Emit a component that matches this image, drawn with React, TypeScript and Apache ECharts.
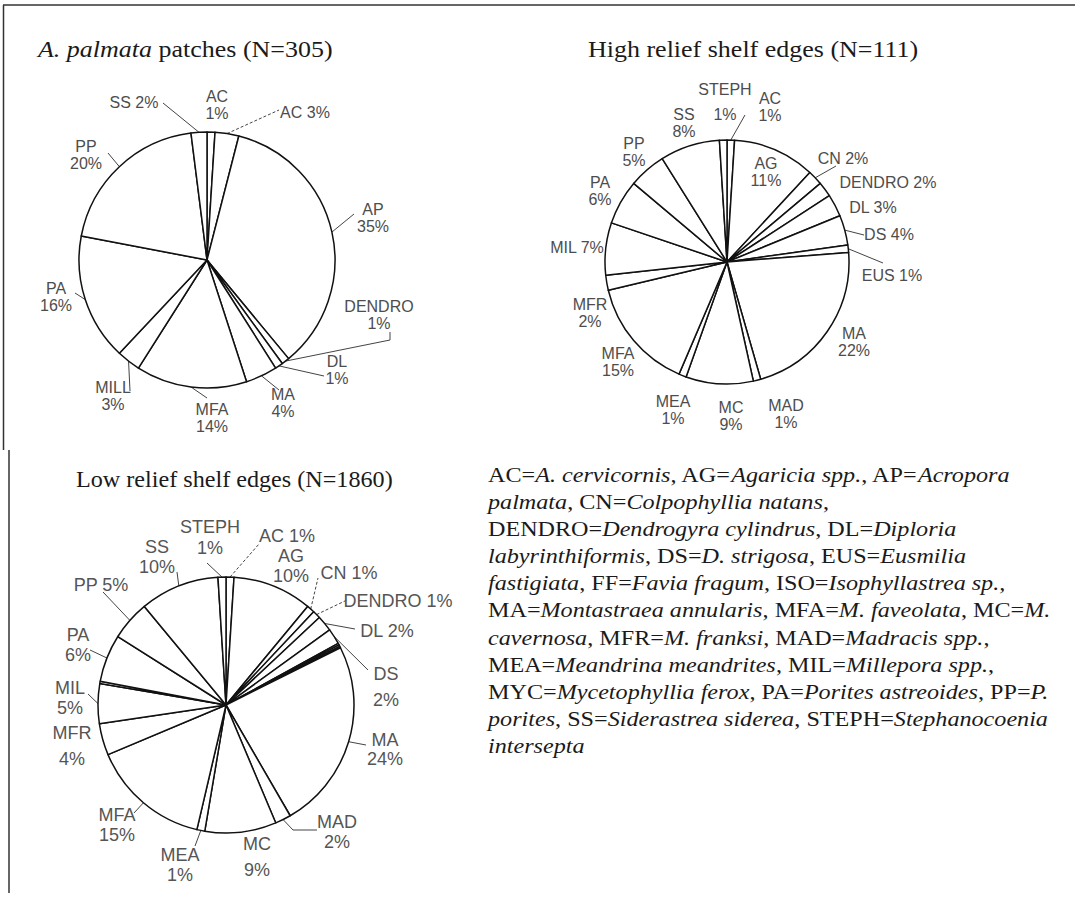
import React, { useEffect, useRef } from 'react';
import * as echarts from 'echarts';

// ---------- data ----------
const P1_TITLE = 'patches (N=305)';
const P1_NAMES = ['AC', 'AC', 'AP', 'DENDRO', 'DL', 'MA', 'MFA', 'MILL', 'PA', 'PP', 'SS'];
const P1_VALUES = [1, 3, 35, 1, 1, 4, 14, 3, 16, 20, 2];

const P2_TITLE = 'High relief shelf edges (N=111)';
const P2_NAMES = ['AC', 'AG', 'CN', 'DENDRO', 'DL', 'DS', 'EUS', 'MA', 'MAD', 'MC', 'MEA', 'MFA', 'MFR', 'MIL', 'PA', 'PP', 'SS', 'STEPH'];
const P2_VALUES = [1, 11, 2, 2, 3, 4, 1, 22, 1, 9, 1, 15, 2, 7, 6, 5, 8, 1];

const P3_TITLE = 'Low relief shelf edges (N=1860)';
const P3_NAMES = ['AC', 'AG', 'CN', 'DENDRO', 'DL', 'DS', 'EUS', 'FF', 'ISO', 'MA', 'MAD', 'MC', 'MEA', 'MFA', 'MFR', 'MIL', 'MYC', 'PA', 'PP', 'SS', 'STEPH'];
const P3_VALUES = [1, 10, 1, 1, 2, 2, 0.2, 0.2, 0.2, 24, 2, 9, 1, 15, 4, 5, 0.3, 6, 5, 10, 1];

const LEGEND_LINES: [string, boolean][][] = [
  [['AC=', false], ['A. cervicornis', true], [', AG=', false], ['Agaricia spp.', true], [', AP=', false], ['Acropora', true]],
  [['palmata', true], [', CN=', false], ['Colpophyllia natans', true], [',', false]],
  [['DENDRO=', false], ['Dendrogyra cylindrus', true], [', DL=', false], ['Diploria', true]],
  [['labyrinthiformis', true], [', DS=', false], ['D. strigosa', true], [', EUS=', false], ['Eusmilia', true]],
  [['fastigiata', true], [', FF=', false], ['Favia fragum', true], [', ISO=', false], ['Isophyllastrea sp.,', true]],
  [['MA=', false], ['Montastraea annularis', true], [', MFA=', false], ['M. faveolata', true], [', MC=', false], ['M.', true]],
  [['cavernosa', true], [', MFR=', false], ['M. franksi', true], [', MAD=', false], ['Madracis spp.', true], [',', false]],
  [['MEA=', false], ['Meandrina meandrites', true], [', MIL=', false], ['Millepora spp.', true], [',', false]],
  [['MYC=', false], ['Mycetophyllia ferox', true], [', PA=', false], ['Porites astreoides', true], [', PP=', false], ['P.', true]],
  [['porites', true], [', SS=', false], ['Siderastrea siderea', true], [', STEPH=', false], ['Stephanocoenia', true]],
  [['intersepta', true]],
];

// ---------- layout (label placement relative to each pie centre) ----------
type Lab = { at: [number, number]; line?: [number, number][]; one?: boolean; lh?: number; dash?: boolean } | null;

const P1_LAYOUT: Lab[] = [
  { at: [10, -155] },
  { at: [98, -148], one: true, dash: true, line: [[72, -150]] },
  { at: [166, -42], line: [[147, -46]] },
  { at: [172, 55], line: [[183, 80], [183, 72]] },
  { at: [130, 110], line: [[117, 116]] },
  { at: [76, 143], line: [[72, 130]] },
  { at: [5, 158], line: [[0, 138]] },
  { at: [-94, 136], line: [[-77, 131]] },
  { at: [-151, 37], line: [[-132, 33]] },
  { at: [-121, -105], line: [[-99, -107]] },
  { at: [-73, -158], one: true, line: [[-44, -157]] },
];

const P2_LAYOUT: Lab[] = [
  { at: [43, -155], line: [[18, -147]] },
  { at: [39, -90] },
  { at: [116, -104], one: true, line: [[109, -96]] },
  { at: [161, -80], one: true },
  { at: [146, -55], one: true },
  { at: [162, -28], one: true, line: [[137, -27]] },
  { at: [165, 13], one: true, line: [[156, 1]] },
  { at: [127, 80] },
  { at: [59, 152] },
  { at: [4, 154] },
  { at: [-54, 148] },
  { at: [-109, 100] },
  { at: [-137, 51] },
  { at: [-150, -15], one: true },
  { at: [-127, -71] },
  { at: [-93, -110] },
  { at: [-43, -139] },
  { at: [-2, -160], lh: 25 },
];

const P3_LAYOUT: Lab[] = [
  { at: [61, -169], one: true, dash: true, line: [[33, -161]] },
  { at: [65, -139] },
  { at: [123, -132], one: true, dash: true, line: [[92, -127]] },
  { at: [172, -104], one: true, dash: true, line: [[121, -105]] },
  { at: [161, -74], one: true, line: [[129, -76]] },
  { at: [160, -18], lh: 26, line: [[142, -35]] },
  null,
  null,
  null,
  { at: [159, 44], lh: 19, line: [[140, 40]] },
  { at: [111, 127], line: [[67, 125], [91, 125]] },
  { at: [31, 152], lh: 26 },
  { at: [-46, 160], line: [[-31, 141]] },
  { at: [-109, 120], line: [[-92, 108]] },
  { at: [-154, 41], lh: 26 },
  { at: [-156, -7], line: [[-138, -11]] },
  null,
  { at: [-148, -60], line: [[-136, -55]] },
  { at: [-125, -120], one: true, line: [[-123, -113]] },
  { at: [-69, -148], line: [[-49, -133]] },
  { at: [-16, -168], lh: 21, line: [[-19, -142]] },
];

const SANS = '"Liberation Sans", Arial, sans-serif';
const SERIF = '"Liberation Serif", "Times New Roman", serif';

function pieSeries(
  names: string[],
  values: number[],
  layout: Lab[],
  center: [number, number],
  radius: number,
  fontSize: number,
  lineHeight: number,
  color: string
) {
  const total = values.reduce((a, b) => a + b, 0);
  const mids: number[] = [];
  let acc = 0;
  values.forEach((v) => {
    mids.push(((acc + v / 2) / total) * Math.PI * 2);
    acc += v;
  });
  const [cx, cy] = center;
  return {
    type: 'pie',
    center: [cx, cy],
    radius,
    startAngle: 90,
    clockwise: true,
    avoidLabelOverlap: false,
    silent: true,
    emphasis: { disabled: true, scale: false },
    itemStyle: { color: '#ffffff', borderColor: '#111111', borderWidth: 1.5 },
    label: {
      show: true,
      position: 'outside',
      color,
      fontFamily: SANS,
      fontSize,
      lineHeight,
    },
    labelLine: { show: true, lineStyle: { color: '#444444', width: 1 } },
    data: values.map((v, i) => {
      const L = layout[i];
      const item: any = { name: names[i], value: v };
      if (!L) {
        item.label = { show: false };
        item.labelLine = { show: false };
      } else {
        item.label = {
          formatter: L.one ? `${names[i]} ${v}%` : `${names[i]}\n${v}%`,
        };
        if (L.lh) item.label.lineHeight = L.lh;
        if (!L.line) item.labelLine = { show: false };
        else if (L.dash) item.labelLine = { lineStyle: { type: [3, 2], color: '#444444', width: 1 } };
      }
      return item;
    }),
    labelLayout: (p: any) => {
      const L = layout[p.dataIndex];
      if (!L) return {};
      const out: any = {
        x: cx + L.at[0],
        y: cy + L.at[1],
        align: 'center',
        verticalAlign: 'middle',
      };
      if (L.line) {
        const a = mids[p.dataIndex];
        out.labelLinePoints = [
          [cx + radius * Math.sin(a), cy - radius * Math.cos(a)],
          ...L.line.map((q) => [cx + q[0], cy + q[1]]),
        ];
      }
      return out;
    },
  };
}

function titleText(x: number, y: number, text: string, scaleX: number) {
  return {
    type: 'text',
    x,
    y,
    scaleX,
    style: {
      text,
      fill: '#1a1a1a',
      fontFamily: SERIF,
      fontSize: 23,
      verticalAlign: 'middle',
      align: 'left',
      rich: {
        i: { fontStyle: 'italic', fontFamily: SERIF, fontSize: 23, fill: '#1a1a1a' },
        n: { fontFamily: SERIF, fontSize: 23, fill: '#1a1a1a' },
      },
    },
  };
}

export default function App() {
  const ref = useRef<HTMLDivElement>(null);
  useEffect(() => {
    if (!ref.current) return;
    const chart = echarts.init(ref.current, null, { renderer: 'svg' });

    const legend = LEGEND_LINES.map((segs, i) => ({
      type: 'text',
      x: 488,
      y: 475 + i * 27.1,
      scaleX: 1.15,
      style: {
        text: segs.map(([t, it]) => `{${it ? 'i' : 'n'}|${t}}`).join(''),
        fill: '#1a1a1a',
        fontFamily: SERIF,
        fontSize: 21,
        verticalAlign: 'middle',
        align: 'left',
        rich: {
          i: { fontStyle: 'italic', fontFamily: SERIF, fontSize: 21, fill: '#1a1a1a' },
          n: { fontFamily: SERIF, fontSize: 21, fill: '#1a1a1a' },
        },
      },
    }));

    chart.setOption({
      animation: false,
      backgroundColor: '#ffffff',
      graphic: {
        elements: [
          { type: 'line', shape: { x1: 3, y1: 5, x2: 1075, y2: 5 }, style: { stroke: '#333', lineWidth: 1.5 } },
          { type: 'line', shape: { x1: 3.5, y1: 5, x2: 3.5, y2: 450 }, style: { stroke: '#333', lineWidth: 1.5 } },
          { type: 'line', shape: { x1: 9, y1: 450, x2: 9, y2: 893 }, style: { stroke: '#333', lineWidth: 1.5 } },
          titleText(38, 49, `{i|A. palmata}{n| ${P1_TITLE}}`, 1.13),
          titleText(588, 49, `{n|${P2_TITLE}}`, 1.13),
          titleText(76, 479, `{n|${P3_TITLE}}`, 1.05),
          ...legend,
        ],
      },
      series: [
        pieSeries(P1_NAMES, P1_VALUES, P1_LAYOUT, [207, 260], 128, 16, 17.5, '#4d4d4d'),
        pieSeries(P2_NAMES, P2_VALUES, P2_LAYOUT, [727, 262], 122, 16, 17, '#4d4d4d'),
        pieSeries(P3_NAMES, P3_VALUES, P3_LAYOUT, [226, 705], 128, 18, 20, '#555555'),
      ],
    });
    return () => chart.dispose();
  }, []);
  return (
    <div
      ref={ref}
      style={{ position: 'absolute', left: 0, top: 0, width: 1075, height: 898, background: '#fff' }}
    />
  );
}
